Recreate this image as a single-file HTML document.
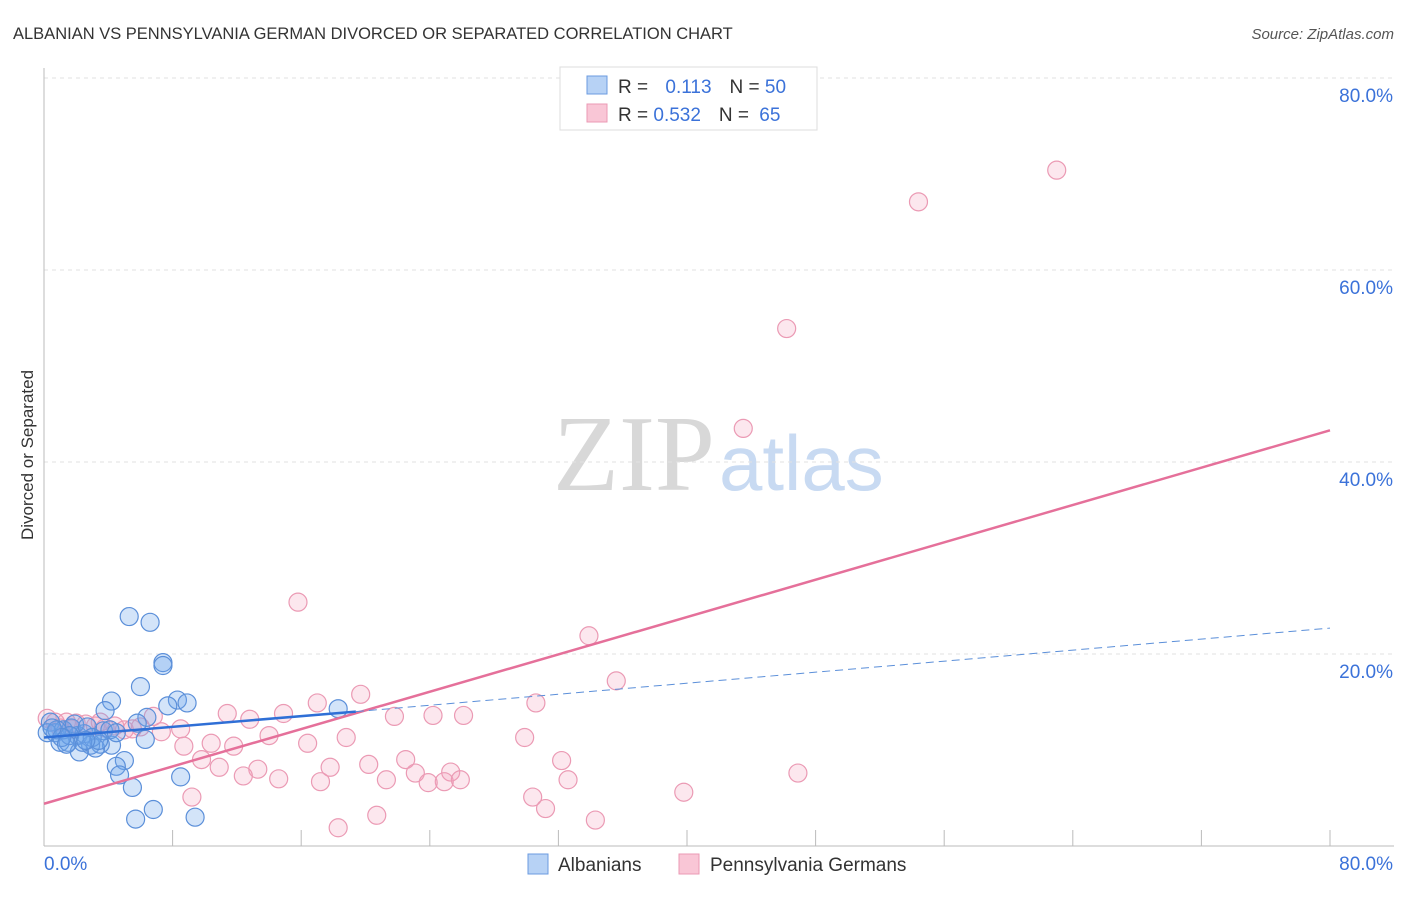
<!DOCTYPE html>
<html><head><meta charset="utf-8"><style>
body{margin:0;background:#fff;font-family:"Liberation Sans",sans-serif;}
</style></head><body>
<svg id="chart" width="1406" height="892" xmlns="http://www.w3.org/2000/svg" font-family="Liberation Sans, sans-serif">
<text x="13" y="39" font-size="16.5" fill="#333">ALBANIAN VS PENNSYLVANIA GERMAN DIVORCED OR SEPARATED CORRELATION CHART</text>
<text x="1394" y="39" font-size="15" fill="#555" text-anchor="end" font-style="italic">Source: ZipAtlas.com</text>
<text x="553" y="490" font-size="108" font-family="Liberation Serif, serif"><tspan fill="#d8d8d8">ZIP</tspan><tspan fill="#c8daf2" font-family="Liberation Sans, sans-serif" font-size="78" dx="4">atlas</tspan></text>
<text transform="translate(33,455) rotate(-90)" font-size="17" fill="#333" text-anchor="middle">Divorced or Separated</text>
<g id="grid"></g><g id="pts"></g><g id="lines"></g>
<g>
<rect x="560" y="67" width="257" height="63" fill="#fff" stroke="#ddd"/>
<rect x="587" y="76" width="20" height="18" fill="#b7d2f5" stroke="#6b9be0"/>
<rect x="587" y="104" width="20" height="18" fill="#f9c6d6" stroke="#eb9ab4"/>
<text x="618" y="93" font-size="19" fill="#333">R = <tspan fill="#3b72d9" dx="12">0.113</tspan><tspan dx="18" fill="#333">N = </tspan><tspan fill="#3b72d9">50</tspan></text>
<text x="618" y="121" font-size="19" fill="#333">R = <tspan fill="#3b72d9">0.532</tspan><tspan dx="18" fill="#333">N = </tspan><tspan fill="#3b72d9" dx="5">65</tspan></text>
</g>
<g>
<rect x="528" y="854" width="20" height="20" fill="#b7d2f5" stroke="#6b9be0"/>
<text x="558" y="871" font-size="19" fill="#333">Albanians</text>
<rect x="679" y="854" width="20" height="20" fill="#f9c6d6" stroke="#eb9ab4"/>
<text x="710" y="871" font-size="19" fill="#333">Pennsylvania Germans</text>
</g>
</svg>
<script>
const yTicks=[20,40,60,80];
const yTickLabels=["20.0%","40.0%","60.0%","80.0%"];
const xLabels=["0.0%","80.0%"];
const blueX=[5.3,6.6,7.4,7.4,6.0,4.2,8.3,8.9,7.7,3.8,6.4,18.3,5.8,6.3,4.2,3.5,5.0,4.5,4.7,5.5,8.5,6.8,5.7,9.4,0.4,0.7,1.0,1.5,1.7,2.1,2.5,2.9,3.2,3.7,2.2,1.2,1.9,2.7,0.2,0.8,1.6,3.0,4.1,3.4,2.4,1.1,4.5,0.5,2.6,1.4];
const blueY=[23.9,23.3,19.1,18.8,16.6,15.1,15.2,14.9,14.6,14.1,13.4,14.3,12.8,11.1,10.5,10.6,8.9,8.3,7.4,6.1,7.2,3.8,2.8,3.0,12.9,11.8,10.8,10.8,12.3,11.5,11.7,10.5,10.2,12.0,9.8,12.1,12.7,12.4,11.8,12.1,11.5,11.3,12.1,11.0,10.8,11.3,11.8,12.3,11.0,10.6];
const pinkX=[63.0,54.4,46.2,43.5,15.8,33.9,35.6,19.7,17.0,30.6,21.8,24.2,26.1,11.4,12.8,14.9,6.8,8.5,7.3,6.0,5.0,14.0,18.8,29.9,10.4,11.8,8.7,16.4,22.5,32.2,9.8,10.9,13.3,17.8,20.2,12.4,14.6,17.2,21.3,23.1,25.3,24.9,23.9,25.9,32.6,46.9,39.8,9.2,30.4,31.2,20.7,34.3,18.3,0.2,0.7,1.4,2.0,2.6,3.2,3.8,4.4,5.5,1.0,1.7,3.5];
const pinkY=[70.4,67.1,53.9,43.5,25.4,21.9,17.2,15.8,14.9,14.9,13.5,13.6,13.6,13.8,13.2,13.8,13.5,12.2,11.9,12.4,12.1,11.5,11.3,11.3,10.7,10.4,10.4,10.7,9.0,8.9,9.0,8.2,8.0,8.2,8.5,7.3,7.0,6.7,6.9,7.6,7.7,6.7,6.6,6.9,6.9,7.6,5.6,5.1,5.1,3.9,3.2,2.7,1.9,13.3,12.9,12.9,12.8,12.7,12.5,12.3,12.5,12.2,12.3,12.2,12.9];
const blueTrend={x0:0,y0:11.3,x1:19.4,y1:14.0,x2:80,y2:22.7};
const pinkTrend={x0:0,y0:4.4,x1:80,y1:43.3};
const NS="http://www.w3.org/2000/svg";
const xs=v=>44+v/80*1286, ys=v=>846-v/20*192;
function mk(t,a,p){const e=document.createElementNS(NS,t);for(const k in a)e.setAttribute(k,a[k]);p.appendChild(e);return e;}
const g=document.getElementById('grid');
yTicks.forEach((t,i)=>{
 const l=mk('line',{x1:44,x2:1394,y1:ys(t),y2:ys(t),stroke:'#e2e2e2','stroke-dasharray':'4,4'},g);
 
 
 const tx=mk('text',{x:1393,y:ys(t)+24,'font-size':19,fill:'#3b72d9','text-anchor':'end'},g);tx.textContent=yTickLabels[i];
 
 
});
const ax=mk('line',{x1:44,x2:44,y1:68,y2:846,stroke:'#bbb'},g);


const bx=mk('line',{x1:44,x2:1394,y1:846,y2:846,stroke:'#bbb'},g);


for(let k=1;k<=10;k++){const t=mk('line',{x1:xs(k*8),x2:xs(k*8),y1:830,y2:846,stroke:'#bbb'},g);
 
 }
const l0=mk('text',{x:44,y:870,'font-size':19,fill:'#3b72d9'},g);l0.textContent=xLabels[0];


const l1=mk('text',{x:1393,y:870,'font-size':19,fill:'#3b72d9','text-anchor':'end'},g);l1.textContent=xLabels[1];


const P=document.getElementById('pts');
pinkX.forEach((x,i)=>{const c=mk('circle',{cx:xs(x),cy:ys(pinkY[i]),r:9,fill:'rgba(244,160,188,0.25)',stroke:'#eb9ab4','stroke-width':1.2},P);
 
 });
blueX.forEach((x,i)=>{const c=mk('circle',{cx:xs(x),cy:ys(blueY[i]),r:9,fill:'rgba(110,165,235,0.3)',stroke:'#5b8fd9','stroke-width':1.2},P);
 
 });
const L=document.getElementById('lines');
const a=mk('line',{x1:xs(pinkTrend.x0),y1:ys(pinkTrend.y0),x2:xs(pinkTrend.x1),y2:ys(pinkTrend.y1),stroke:'#e5709a','stroke-width':2.5},L);


const b=mk('line',{x1:xs(blueTrend.x0),y1:ys(blueTrend.y0),x2:xs(blueTrend.x1),y2:ys(blueTrend.y1),stroke:'#2f6fd6','stroke-width':2.5},L);


const c=mk('line',{x1:xs(blueTrend.x1),y1:ys(blueTrend.y1),x2:xs(blueTrend.x2),y2:ys(blueTrend.y2),stroke:'#5b8fd9','stroke-width':1,'stroke-dasharray':'8,5'},L);


</script>
</body></html>
